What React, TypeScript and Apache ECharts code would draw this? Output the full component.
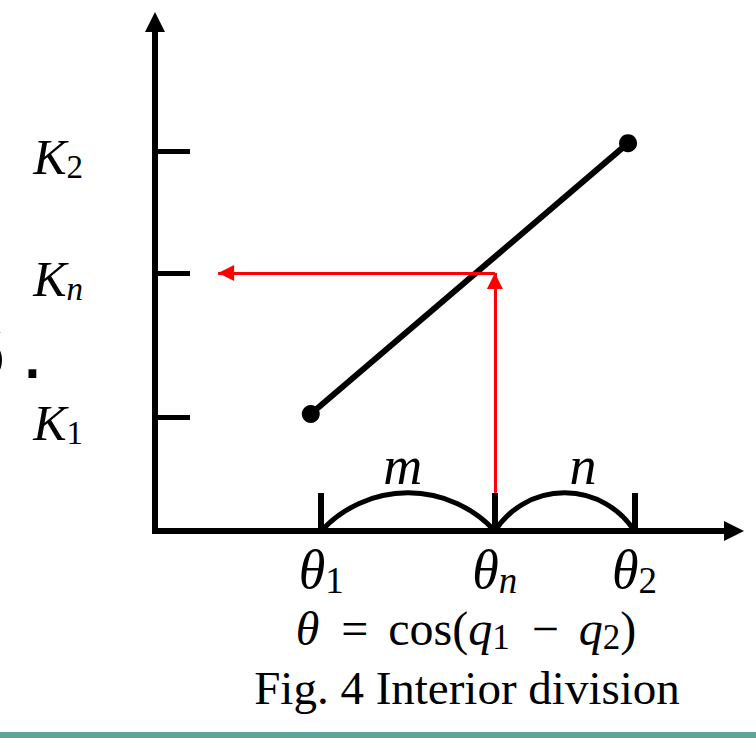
import React, { useEffect, useRef } from 'react';
import * as echarts from 'echarts';

const SERIF = '"Liberation Serif", "Times New Roman", serif';

// θ axis divisions (θ1, θn, θ2)
const thetaValues = [2.87, 5.87, 8.28];
const thetaSubs = ['1', 'n', '2'];
// K axis marks (K1, Kn, K2)
const kValues = [2.24, 5.07, 7.47];
const kSubs = ['1', 'n', '2'];
// straight line between (θ1,K1) and (θ2,K2)
const lineXs = [2.69, 8.17];
const lineYs = [2.3, 7.62];
// arcs marking the m : n division
const arcNames = ['m', 'n'];
const arcFrom = [2.87, 5.87];
const arcTo = [5.87, 8.28];
const arcPeak = [0.75, 0.75];
const arcLabelX = [4.28, 7.39];
// red projection θn -> line -> Kn
const projX = 5.87;
const projBase = 0.75;
const projY = 5.07;
const projLeft = 1.09;

function subStyle(italic: boolean, size: number, lh: number) {
  return {
    fontFamily: SERIF,
    fontStyle: italic ? 'italic' : 'normal',
    fontSize: size,
    lineHeight: lh,
    verticalAlign: 'bottom',
    color: '#000',
  };
}

export default function App() {
  const ref = useRef<HTMLDivElement>(null);
  useEffect(() => {
    if (!ref.current) return;
    const chart = echarts.init(ref.current, null, { renderer: 'svg' });

    const nearestIdx = (arr: number[], v: number) => {
      let best = 0;
      arr.forEach((a, i) => {
        if (Math.abs(a - v) < Math.abs(arr[best] - v)) best = i;
      });
      return best;
    };

    const option: any = {
      animation: false,
      backgroundColor: '#fff',
      grid: { left: 155, right: 22, top: 22, bottom: 207, containLabel: false, outerBoundsMode: 'none' },
      xAxis: {
        type: 'value',
        min: 0,
        max: 10,
        splitLine: { show: false },
        axisLine: {
          show: true,
          onZero: false,
          symbol: ['none', 'triangle'],
          symbolSize: [20, 20],
          lineStyle: { color: '#000', width: 6, cap: 'square' },
        },
        axisTick: {
          show: true,
          customValues: thetaValues,
          inside: true,
          length: 38,
          lineStyle: { color: '#000', width: 6 },
        },
        axisLabel: {
          customValues: thetaValues,
          margin: 10,
          formatter: (v: number) => {
            const i = nearestIdx(thetaValues, v);
            const s = thetaSubs[i];
            return '{t|θ}' + (s === 'n' ? '{si|n}' : '{s|' + s + '}');
          },
          rich: {
            t: { fontFamily: SERIF, fontStyle: 'italic', fontSize: 54, lineHeight: 58, color: '#000' },
            s: subStyle(false, 37, 26),
            si: subStyle(true, 37, 26),
          },
        },
      },
      yAxis: {
        type: 'value',
        min: 0,
        max: 10,
        splitLine: { show: false },
        axisLine: {
          show: true,
          onZero: false,
          symbol: ['none', 'triangle'],
          symbolSize: [20, 20],
          lineStyle: { color: '#000', width: 6, cap: 'square' },
        },
        axisTick: {
          show: true,
          customValues: kValues,
          inside: true,
          length: 35,
          lineStyle: { color: '#000', width: 5 },
        },
        axisLabel: {
          customValues: kValues,
          margin: 72,
          padding: [12, 0, 0, 0],
          formatter: (v: number) => {
            const i = nearestIdx(kValues, v);
            const s = kSubs[i];
            return '{k|K}' + (s === 'n' ? '{si|n}' : '{s|' + s + '}');
          },
          rich: {
            k: { fontFamily: SERIF, fontStyle: 'italic', fontSize: 50, lineHeight: 54, color: '#000' },
            s: subStyle(false, 33, 22),
            si: subStyle(true, 33, 22),
          },
        },
      },
      series: [
        {
          type: 'line',
          data: lineXs.map((x, i) => [x, lineYs[i]]),
          symbol: 'circle',
          symbolSize: 18,
          showSymbol: true,
          lineStyle: { color: '#000', width: 6 },
          itemStyle: { color: '#000' },
          z: 3,
          silent: true,
        },
        {
          type: 'custom',
          z: 3,
          silent: true,
          encode: { x: [0, 1, 3], y: 2 },
          data: arcFrom.map((f, i) => [f, arcTo[i], arcPeak[i], arcLabelX[i]]),
          renderItem: (params: any, api: any) => {
            const x0 = api.value(0);
            const x1 = api.value(1);
            const pk = api.value(2);
            const lx = api.value(3);
            const p0 = api.coord([x0, 0]);
            const p1 = api.coord([x1, 0]);
            const pp = api.coord([(x0 + x1) / 2, pk]);
            const c = (p1[0] - p0[0]) / 2;
            const h = p0[1] - pp[1];
            const r = (c * c + h * h) / (2 * h);
            const cx = (p0[0] + p1[0]) / 2;
            const cy = pp[1] + r;
            const a0 = Math.atan2(p0[1] - cy, p0[0] - cx);
            const a1 = Math.atan2(p1[1] - cy, p1[0] - cx);
            const lp = api.coord([lx, pk]);
            return {
              type: 'group',
              children: [
                {
                  type: 'arc',
                  shape: { cx, cy, r, startAngle: a0, endAngle: a1, clockwise: true },
                  style: { stroke: '#000', lineWidth: 5, fill: 'none' },
                },
                {
                  type: 'text',
                  x: lp[0],
                  y: pp[1] - 27,
                  style: {
                    text: arcNames[params.dataIndex],
                    fontFamily: SERIF,
                    fontStyle: 'italic',
                    fontSize: 54,
                    fill: '#000',
                    align: 'center',
                    verticalAlign: 'middle',
                  },
                },
              ],
            };
          },
        },
        {
          type: 'scatter',
          data: [],
          z: 5,
          markLine: {
            silent: true,
            symbol: ['none', 'triangle'],
            symbolSize: [16, 16],
            symbolOffset: [0, [0, 8]],
            label: { show: false },
            lineStyle: { color: '#ff0000', width: 3, type: 'solid' },
            data: [
              [{ coord: [projX, projBase] }, { coord: [projX, projY] }],
              [{ coord: [projX, projY] }, { coord: [projLeft, projY] }],
            ],
          },
        },
      ],
      graphic: [
        {
          type: 'text',
          x: 466,
          y: 628,
          style: {
            text: '{i|θ}{o|=}{r|cos(}{i|q}{s|1}{o|−}{i|q}{s|2}{r|)}',
            align: 'center',
            verticalAlign: 'middle',
            rich: {
              i: { fontFamily: SERIF, fontStyle: 'italic', fontSize: 48, lineHeight: 54, fill: '#000' },
              r: { fontFamily: SERIF, fontSize: 48, lineHeight: 54, fill: '#000' },
              o: { fontFamily: SERIF, fontSize: 48, lineHeight: 54, fill: '#000', padding: [0, 20, 0, 22] },
              s: { fontFamily: SERIF, fontSize: 35, lineHeight: 10, verticalAlign: 'bottom', fill: '#000' },
            },
          },
        },
        {
          type: 'text',
          x: 467,
          y: 688,
          style: {
            text: 'Fig. 4 Interior division',
            fontFamily: SERIF,
            fontSize: 47,
            fill: '#000',
            align: 'center',
            verticalAlign: 'middle',
          },
        },
        {
          type: 'text',
          x: -40,
          y: 349,
          style: {
            text: '6',
            fontFamily: '"Liberation Sans", Arial, sans-serif',
            fontSize: 82,
            fill: '#000',
            align: 'left',
            verticalAlign: 'middle',
          },
        },
        {
          type: 'text',
          x: 21,
          y: 349,
          style: {
            text: '.',
            fontFamily: '"Liberation Sans", Arial, sans-serif',
            fontSize: 82,
            fill: '#000',
            align: 'left',
            verticalAlign: 'middle',
          },
        },
        {
          type: 'rect',
          shape: { x: 0, y: 732, width: 756, height: 6 },
          style: { fill: '#5aa69b' },
        },
      ],
    };

    chart.setOption(option);
    return () => chart.dispose();
  }, []);

  return (
    <div
      ref={ref}
      style={{ position: 'fixed', left: 0, top: 0, width: 756, height: 738 }}
    />
  );
}
